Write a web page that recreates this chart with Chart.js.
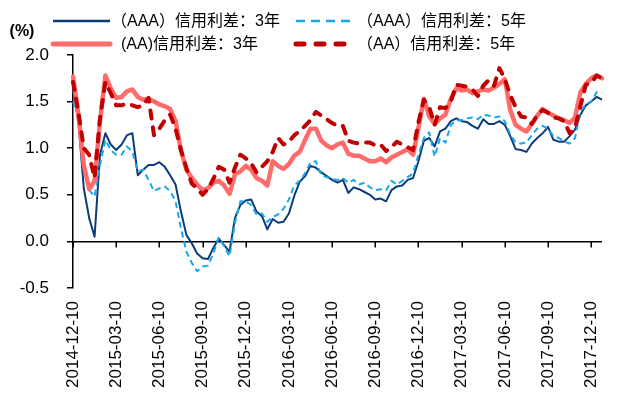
<!DOCTYPE html>
<html>
<head>
<meta charset="utf-8">
<script src="https://cdn.jsdelivr.net/npm/chart.js@4.4.1/dist/chart.umd.min.js"></script>
<style>
  html, body { margin: 0; padding: 0; background: #fff; }
  #wrap { width: 627px; height: 396px; }
</style>
</head>
<body>
<div id="wrap"><canvas id="spreadChart"></canvas></div>
<script>
// tick labels every 8 samples (one quarter)
var tickLabels = ['2014-12-10', '2015-03-10', '2015-06-10', '2015-09-10', '2015-12-10',
    '2016-03-10', '2016-06-10', '2016-09-10', '2016-12-10', '2017-03-10',
    '2017-06-10', '2017-09-10', '2017-12-10'];
var pointsPerTick = 8;

var seriesNames = ['（AAA）信用利差：3年', '（AAA）信用利差：5年', '(AA)信用利差：3年', '（AA）信用利差：5年'];

var aaa3y = [1.62, 1.29, 0.57, 0.25, 0.05, 0.93, 1.16, 1.04, 0.98, 1.04,
    1.14, 1.16, 0.71, 0.77, 0.82, 0.82, 0.85, 0.80, 0.71, 0.61,
    0.32, 0.07, -0.02, -0.13, -0.18, -0.19, -0.07, 0.03, -0.04, -0.11,
    0.25, 0.39, 0.44, 0.45, 0.32, 0.27, 0.13, 0.24, 0.20, 0.21,
    0.30, 0.49, 0.64, 0.70, 0.81, 0.79, 0.74, 0.70, 0.66, 0.63,
    0.66, 0.52, 0.58, 0.56, 0.53, 0.50, 0.45, 0.46, 0.43, 0.55,
    0.59, 0.60, 0.66, 0.68, 0.86, 1.08, 1.11, 1.02, 1.18, 1.21,
    1.29, 1.32, 1.29, 1.28, 1.24, 1.21, 1.31, 1.26, 1.26, 1.29,
    1.25, 1.13, 0.99, 0.98, 0.96, 1.05, 1.11, 1.16, 1.23, 1.09,
    1.07, 1.07, 1.13, 1.20, 1.36, 1.46, 1.50, 1.55, 1.52];

var aaa5y = [1.50, 1.35, 0.85, 0.55, 0.48, 0.82, 1.09, 0.98, 0.93, 0.93,
    1.02, 0.96, 0.75, 0.77, 0.66, 0.54, 0.57, 0.59, 0.54, 0.43,
    0.14, -0.11, -0.23, -0.32, -0.27, -0.26, -0.13, 0.04, -0.05, -0.16,
    0.20, 0.43, 0.43, 0.39, 0.29, 0.30, 0.21, 0.26, 0.29, 0.35,
    0.45, 0.60, 0.65, 0.73, 0.85, 0.86, 0.71, 0.69, 0.67, 0.66,
    0.68, 0.63, 0.66, 0.61, 0.63, 0.58, 0.55, 0.56, 0.55, 0.65,
    0.61, 0.65, 0.69, 0.73, 0.93, 1.11, 1.17, 0.91, 1.11, 1.06,
    1.25, 1.30, 1.30, 1.32, 1.33, 1.31, 1.36, 1.35, 1.33, 1.34,
    1.29, 1.15, 1.06, 1.05, 1.06, 1.14, 1.21, 1.24, 1.21, 1.13,
    1.11, 1.07, 1.05, 1.11, 1.39, 1.47, 1.50, 1.60, 1.59];

var aa3y = [1.77, 1.36, 0.82, 0.56, 0.65, 1.29, 1.78, 1.64, 1.54, 1.55,
    1.61, 1.63, 1.55, 1.52, 1.53, 1.50, 1.47, 1.45, 1.42, 1.29,
    0.98, 0.77, 0.68, 0.61, 0.55, 0.57, 0.63, 0.65, 0.60, 0.51,
    0.72, 0.75, 0.81, 0.77, 0.68, 0.65, 0.60, 0.86, 0.81, 0.78,
    0.83, 0.92, 0.96, 1.09, 1.21, 1.21, 1.08, 1.03, 1.00, 1.04,
    1.06, 0.94, 0.92, 0.92, 0.89, 0.86, 0.86, 0.89, 0.85, 0.90,
    0.93, 0.96, 0.99, 0.93, 1.22, 1.53, 1.34, 1.26, 1.32, 1.36,
    1.53, 1.64, 1.62, 1.63, 1.59, 1.61, 1.63, 1.62, 1.65, 1.69,
    1.74, 1.41, 1.25, 1.21, 1.18, 1.26, 1.35, 1.42, 1.38, 1.35,
    1.32, 1.30, 1.27, 1.33, 1.60, 1.69, 1.75, 1.78, 1.75];

var aa5y = [1.71, 1.39, 1.00, 0.93, 0.68, 1.32, 1.71, 1.59, 1.46, 1.46,
    1.48, 1.46, 1.44, 1.46, 1.54, 1.14, 1.21, 1.30, 1.36, 1.21,
    0.98, 0.79, 0.62, 0.57, 0.50, 0.56, 0.67, 0.80, 0.77, 0.63,
    0.79, 0.93, 0.89, 0.84, 0.74, 0.80, 0.86, 0.96, 1.11, 1.04,
    1.07, 1.14, 1.18, 1.24, 1.30, 1.39, 1.35, 1.31, 1.27, 1.24,
    1.24, 1.08, 1.06, 1.05, 1.06, 1.06, 1.03, 1.04, 0.97, 1.01,
    1.07, 1.04, 1.01, 0.98, 1.28, 1.52, 1.44, 1.25, 1.44, 1.43,
    1.50, 1.68, 1.67, 1.66, 1.63, 1.56, 1.67, 1.73, 1.67, 1.86,
    1.74, 1.57, 1.44, 1.34, 1.33, 1.26, 1.35, 1.41, 1.38, 1.33,
    1.32, 1.29, 1.16, 1.22, 1.45, 1.68, 1.70, 1.78, 1.75];

var categories = aaa3y.map(function (v, i) {
    return i % pointsPerTick === 0 ? tickLabels[i / pointsPerTick] : '';
});

var textFont = 'Arial, "Liberation Sans", "Noto Sans CJK SC", sans-serif';

// legend placement: line sample from x0 to x1, text at tx
var legendSpots = [
    { x0: 53, x1: 110, y: 21, tx: 111 },
    { x0: 296, x1: 350, y: 21, tx: 357 },
    { x0: 53, x1: 110, y: 44, tx: 121 },
    { x0: 296, x1: 352, y: 44, tx: 357 }
];

var zeroAxis = {
    id: 'zeroAxis',
    beforeDatasetsDraw: function (chart) {
        var ctx = chart.ctx;
        var xs = chart.scales.x;
        var y0 = chart.scales.y.getPixelForValue(0);
        ctx.save();
        ctx.strokeStyle = '#000';
        ctx.lineWidth = 1.5;
        ctx.beginPath();
        for (var i = 0; i < categories.length; i += pointsPerTick) {
            var x = Math.round(xs.getPixelForValue(i)) + 0.25;
            ctx.moveTo(x, y0);
            ctx.lineTo(x, y0 + 6);
        }
        ctx.stroke();
        ctx.restore();
    }
};

var topLegend = {
    id: 'topLegend',
    afterDraw: function (chart) {
        var ctx = chart.ctx;
        ctx.save();
        ctx.fillStyle = '#000';
        ctx.textBaseline = 'middle';
        ctx.textAlign = 'center';
        ctx.font = 'bold 16px ' + textFont;
        ctx.fillText('(%)', 22, 32);
        ctx.textAlign = 'left';
        ctx.font = '16px ' + textFont;
        chart.data.datasets.forEach(function (ds, k) {
            var spot = legendSpots[k];
            ctx.strokeStyle = ds.borderColor;
            ctx.lineWidth = ds.legendWidth;
            ctx.lineCap = ds.borderCapStyle;
            ctx.setLineDash(ds.legendDash);
            ctx.beginPath();
            ctx.moveTo(spot.x0, spot.y);
            ctx.lineTo(spot.x1, spot.y);
            ctx.stroke();
            ctx.setLineDash([]);
            ctx.fillText(ds.label, spot.tx, spot.y + 1);
        });
        ctx.restore();
    }
};

var canvas = document.getElementById('spreadChart');
var data = {
    labels: categories,
    datasets: [{
        label: seriesNames[0],
        data: aaa3y,
        borderColor: '#0c3b7c',
        borderWidth: 2,
        borderCapStyle: 'butt',
        legendWidth: 2.5,
        legendDash: [],
        order: 3
    }, {
        label: seriesNames[1],
        data: aaa5y,
        borderColor: '#16a8e8',
        borderWidth: 2,
        borderDash: [6, 4],
        borderCapStyle: 'butt',
        legendWidth: 2.5,
        legendDash: [9, 6],
        order: 2
    }, {
        label: seriesNames[2],
        data: aa3y,
        borderColor: '#ff6b6b',
        borderWidth: 4.5,
        borderCapStyle: 'round',
        legendWidth: 5,
        legendDash: [],
        order: 1
    }, {
        label: seriesNames[3],
        data: aa5y,
        borderColor: '#c00000',
        borderWidth: 4,
        borderDash: [8, 9],
        borderCapStyle: 'round',
        legendWidth: 5,
        legendDash: [8, 12],
        order: 0
    }]
};

var config = {
    type: 'line',
    data: data,
    options: {
        responsive: true,
        maintainAspectRatio: false,
        animation: false,
        devicePixelRatio: 1,
        layout: {
            padding: { left: 0, right: 25, top: 55, bottom: 0 }
        },
        elements: {
            point: { radius: 0 },
            line: { tension: 0, borderJoinStyle: 'round' }
        },
        plugins: {
            legend: { display: false },
            tooltip: { enabled: false }
        },
        scales: {
            x: {
                grid: { display: false, drawTicks: false },
                border: { display: false },
                afterFit: function (scale) {
                    scale.height = 108;
                    scale.paddingLeft = 0;
                    scale.paddingRight = 0;
                },
                ticks: {
                    autoSkip: false,
                    minRotation: 90,
                    maxRotation: 90,
                    padding: 13,
                    color: '#000',
                    font: { family: textFont, size: 17 }
                }
            },
            y: {
                min: -0.5,
                max: 2,
                afterFit: function (scale) { scale.width = 73; },
                border: { display: true, color: '#000', width: 1.5 },
                grid: {
                    color: function (ctx) {
                        return ctx.tick && ctx.tick.value === 0 ? '#000' : 'rgba(0,0,0,0)';
                    },
                    lineWidth: 1.5,
                    tickColor: '#000',
                    tickLength: 6,
                    tickWidth: 1.5
                },
                ticks: {
                    stepSize: 0.5,
                    padding: 18,
                    color: '#000',
                    font: { family: textFont, size: 17 },
                    callback: function (value) { return value.toFixed(1); }
                }
            }
        }
    },
    plugins: [zeroAxis, topLegend]
};
var chart = new Chart(canvas, config);
</script>
</body>
</html>
